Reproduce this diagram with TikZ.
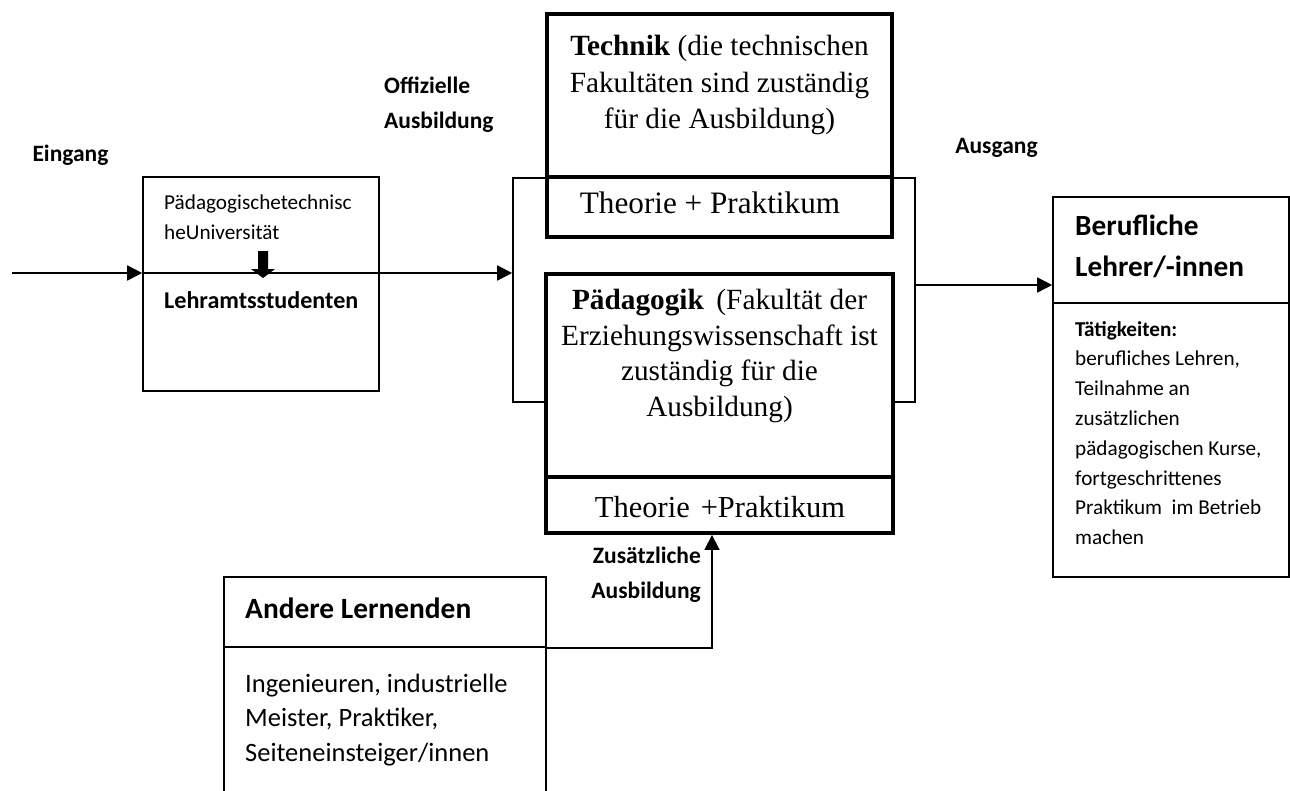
\documentclass[tikz,border=0pt]{standalone}
\usepackage{fontspec}
\setmainfont{Liberation Serif}
\newfontfamily\calibri{Carlito}
\usetikzlibrary{arrows.meta}

\begin{document}
\begin{tikzpicture}[x=1pt,y=-1pt,
  thinbox/.style={draw, line width=1.6pt, inner sep=0pt},
  thickbox/.style={draw, line width=3.8pt, fill=white, inner sep=0pt},
  arr/.style={line width=1.6pt, -{Triangle[length=15pt,width=15pt]}},
  small/.style={font=\calibri\fontsize{21.2}{30}\selectfont, inner sep=0pt, align=left},
  lbl/.style={font=\calibri\bfseries\fontsize{23.5}{35}\selectfont, inner sep=0pt},
  serif/.style={font=\fontsize{29.3}{36.5}\selectfont, inner sep=0pt, align=center},
]
\useasboundingbox (0,0) rectangle (1290,790);
\clip (0,0) rectangle (1290,790);

% thin frame joining the two faculty blocks
\node[thinbox, minimum width=402, minimum height=224] (brk) at (714,290) {};

% technical faculty block
\node[thickbox, minimum width=345, minimum height=163] (tup) at (719.5,95.5) {};
\node[thickbox, minimum width=345, minimum height=60] (tlow) at (719.5,207) {};
\node[serif] (ttext) at (719.5,85) {\textbf{Technik} (die technischen\\Fakultäten sind zuständig\\für die Ausbildung)};
\node[serif, font=\fontsize{31.2}{36}\selectfont] (tpr) at (710,203) {Theorie + Praktikum};

% pedagogical faculty block
\node[thickbox, minimum width=347, minimum height=203] (pup) at (719.5,375.5) {};
\node[thickbox, minimum width=347, minimum height=56] (plow) at (719.5,505) {};
\node[serif, font=\fontsize{29.3}{35.5}\selectfont] (ptext) at (719.5,356)
  {\hbox to 295pt{\textbf{Pädagogik}\hfill(Fakultät der}\\Erziehungswissenschaft ist\\zuständig für die\\Ausbildung)};
\node[serif, font=\fontsize{30.5}{36}\selectfont] (ppr) at (720,507) {Theorie\hspace{11pt}+Praktikum};

% entry box
\node[thinbox, minimum width=236, minimum height=214] (lehr) at (261,284) {};
\node[small, anchor=west] (uni) at (164,217) {Pädagogischetechnisc\\heUniversität};
\node[lbl, anchor=west, font=\calibri\bfseries\fontsize{24.1}{35}\selectfont] (stud) at (164,300) {Lehramtsstudenten};
\coordinate (dn) at (263,251);
\fill (dn) ++(-5,0) -- ++(10,0) -- ++(0,18) -- ++(7,0) -- ++(-12,9) -- ++(-12,-9) -- ++(7,0) -- cycle;

% exit box
\node[thinbox, minimum width=236, minimum height=106] (bertop) at (1171,250) {};
\node[thinbox, minimum width=236, minimum height=274] (berlow) at (1171,440) {};
\node[inner sep=0pt, anchor=west, align=left, font=\calibri\bfseries\fontsize{29.3}{41}\selectfont] (bertext) at (1075,246.5) {Berufliche\\Lehrer/-innen};
\node[small, anchor=west, font=\calibri\fontsize{21.2}{29.8}\selectfont] (bertask) at (1075,433)
  {\textbf{Tätigkeiten:}\\berufliches Lehren,\\Teilnahme an\\zusätzlichen\\pädagogischen Kurse,\\fortgeschrittenes\\Praktikum\ \ im Betrieb\\machen};

% other learners
\node[thinbox, minimum width=322, minimum height=70] (andtop) at (385,612) {};
\node[thinbox, minimum width=322, minimum height=173] (andlow) at (385,733.5) {};
\node[inner sep=0pt, anchor=west, font=\calibri\bfseries\fontsize{29.4}{34}\selectfont] (andtext) at (245,608) {Andere Lernenden};
\node[inner sep=0pt, anchor=west, align=left, font=\calibri\fontsize{26.5}{34.5}\selectfont] (andbody) at (245,720)
  {Ingenieuren, industrielle\\Meister, Praktiker,\\Seiteneinsteiger/innen};

% stage labels
\node[lbl] (eing) at (70.5,155) {Eingang};
\node[lbl, anchor=west, align=left] (offz) at (384,104.5) {Offizielle\\Ausbildung};
\node[lbl] (ausg) at (996.5,148) {Ausgang};
\node[lbl, anchor=east, align=right] (zus) at (701,574.5) {Zusätzliche\\Ausbildung};

% flow arrows
\coordinate (in) at (12,273);
\coordinate (outlvl) at (0,285);
\draw[arr] (in) -- (lehr.west |- in);
\draw[arr] (lehr.west |- in) -- (brk.west |- in);
\draw[arr] (brk.east |- outlvl) -- (bertop.west |- outlvl);
\draw[arr] (andtop.south east) -| ([xshift=-7.5pt]plow.south);
\end{tikzpicture}
\end{document}
